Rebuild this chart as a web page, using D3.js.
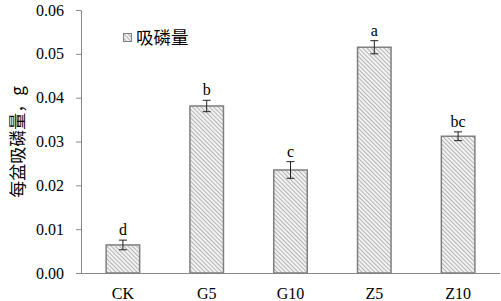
<!DOCTYPE html>
<html>
<head>
<meta charset="utf-8">
<script src="https://cdn.jsdelivr.net/npm/d3@7"></script>
<style>
  body { margin: 0; background: #fff; }
  text { font-family: "Liberation Serif", "Times New Roman", serif; }
</style>
</head>
<body>
<script>
// data
let groups = ["CK", "G5", "G10", "Z5", "Z10"];
let uptake = [0.0064, 0.0381, 0.0235, 0.0515, 0.0312];
let errs = [0.0011, 0.0013, 0.0019, 0.0015, 0.0010];
let letters = ["d", "b", "c", "a", "bc"];
let yTicks = [0, 0.01, 0.02, 0.03, 0.04, 0.05, 0.06];

let svg = d3.select("body").append("svg")
    .attr("width", 501)
    .attr("height", 301);

// hatch fill
let defs = svg.append("defs");
let pat = defs.append("pattern")
    .attr("id", "hatch")
    .attr("patternUnits", "userSpaceOnUse")
    .attr("width", 3).attr("height", 3)
    .attr("patternTransform", "rotate(-45)");
pat.append("rect").attr("width", 3).attr("height", 3).attr("fill", "#f2f2f2");
pat.append("line").attr("x1", 0).attr("y1", 0).attr("x2", 0).attr("y2", 3)
    .attr("stroke", "#8c8c8c").attr("stroke-width", 1.2);

let x = d3.scaleBand().domain(groups).range([81, 500]).paddingInner(0.6).paddingOuter(0.3);
let y = d3.scaleLinear().domain([0, 0.06]).range([273, 10]);

// y axis
let yAxis = svg.append("g")
    .attr("transform", "translate(81,0)")
    .call(d3.axisLeft(y).tickValues(yTicks).tickFormat(d3.format(".2f")).tickSize(5).tickSizeOuter(0));
yAxis.select(".domain").attr("stroke", "#888");
yAxis.selectAll(".tick line").attr("stroke", "#888");
yAxis.selectAll("text").attr("font-size", 16).attr("fill", "#000").attr("x", -17)
    .style("font-family", "Liberation Serif");

// x axis
let xAxis = svg.append("g")
    .attr("transform", "translate(0,273)")
    .call(d3.axisBottom(x).tickSize(0).tickSizeOuter(0));
xAxis.select(".domain").attr("stroke", "#888").attr("d", "M81,0.5H500");
xAxis.selectAll("text").attr("font-size", 16).attr("fill", "#000").attr("dy", "1.45em")
    .style("font-family", "Liberation Serif");

// bars
svg.selectAll(".bar")
    .data(groups)
    .enter()
    .append("rect")
    .attr("class", "bar")
    .attr("x", d => x(d))
    .attr("width", x.bandwidth())
    .attr("y", (d, i) => y(uptake[i]))
    .attr("height", (d, i) => y(0) - y(uptake[i]))
    .attr("fill", "url(#hatch)")
    .attr("stroke", "#7f7f7f")
    .attr("stroke-width", 1.5);

// error bars
let eb = svg.selectAll(".err")
    .data(groups)
    .enter()
    .append("g")
    .attr("class", "err")
    .attr("stroke", "#222")
    .attr("stroke-width", 1);
eb.append("line")
    .attr("x1", d => x(d) + x.bandwidth() / 2)
    .attr("x2", d => x(d) + x.bandwidth() / 2)
    .attr("y1", (d, i) => y(uptake[i] + errs[i]))
    .attr("y2", (d, i) => y(uptake[i] - errs[i]));
eb.append("line")
    .attr("x1", d => x(d) + x.bandwidth() / 2 - 4)
    .attr("x2", d => x(d) + x.bandwidth() / 2 + 4)
    .attr("y1", (d, i) => y(uptake[i] + errs[i]))
    .attr("y2", (d, i) => y(uptake[i] + errs[i]));
eb.append("line")
    .attr("x1", d => x(d) + x.bandwidth() / 2 - 4)
    .attr("x2", d => x(d) + x.bandwidth() / 2 + 4)
    .attr("y1", (d, i) => y(uptake[i] - errs[i]))
    .attr("y2", (d, i) => y(uptake[i] - errs[i]));

// significance letters
svg.selectAll(".sig")
    .data(groups)
    .enter()
    .append("text")
    .attr("class", "sig")
    .attr("x", d => x(d) + x.bandwidth() / 2)
    .attr("y", (d, i) => y(uptake[i] + errs[i]) - 5)
    .attr("text-anchor", "middle")
    .attr("font-size", 16)
    .text((d, i) => letters[i]);

// legend
svg.append("rect")
    .attr("x", 123.5).attr("y", 33.5)
    .attr("width", 8).attr("height", 8)
    .attr("fill", "url(#hatch)")
    .attr("stroke", "#7f7f7f");
svg.append("text")
    .attr("x", 136).attr("y", 44)
    .attr("font-size", 17.5)
    .style("font-family", "'Noto Sans CJK SC'")
    .text("吸磷量");

// y title
svg.append("text")
    .attr("transform", "translate(24,142) rotate(-90)")
    .attr("text-anchor", "middle")
    .attr("font-size", 17)
    .style("font-family", "'Noto Sans CJK SC'")
    .text("每盆吸磷量，g");
</script>
</body>
</html>
